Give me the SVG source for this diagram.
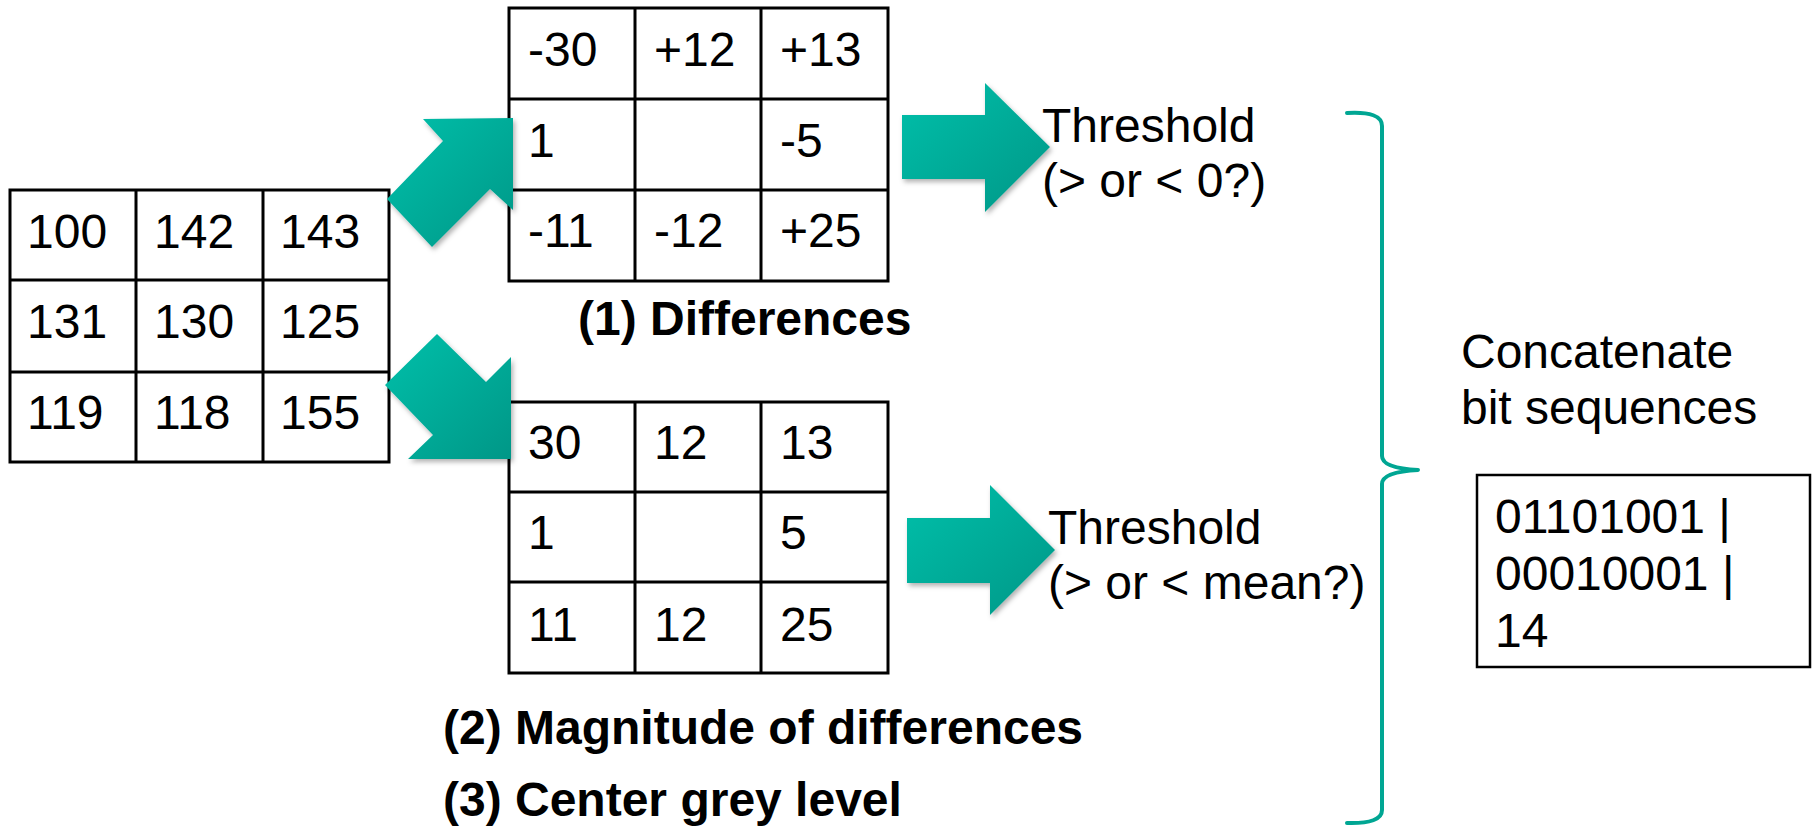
<svg xmlns="http://www.w3.org/2000/svg" width="1814" height="827" viewBox="0 0 1814 827">
<style>
.grid{fill:none;stroke:#000;stroke-width:3}
.t{font-family:"Liberation Sans",Arial,sans-serif;font-size:48px;fill:#000}
.b{font-family:"Liberation Sans",Arial,sans-serif;font-size:48px;font-weight:bold;fill:#000}
.arrow{fill:url(#tg);filter:url(#sh)}
.brace{fill:none;stroke:#00a693;stroke-width:4;stroke-linecap:round;stroke-linejoin:round}
</style>
<defs>
<linearGradient id="tg" x1="0" y1="0" x2="1" y2="1">
<stop offset="0" stop-color="#00c0aa"/>
<stop offset="1" stop-color="#009787"/>
</linearGradient>
<filter id="sh" x="-20%" y="-20%" width="140%" height="140%">
<feDropShadow dx="2" dy="3" stdDeviation="2.5" flood-color="#000" flood-opacity="0.3"/>
</filter>
</defs>

<g id="input-grid">
<rect class="grid" x="10" y="190" width="379" height="272"/>
<path class="grid" d="M136,190V462M263,190V462M10,280H389M10,372H389"/>
<text class="t" x="27" y="248">100</text><text class="t" x="154" y="248">142</text><text class="t" x="280" y="248">143</text>
<text class="t" x="27" y="338">131</text><text class="t" x="154" y="338">130</text><text class="t" x="280" y="338">125</text>
<text class="t" x="27" y="429">119</text><text class="t" x="154" y="429">118</text><text class="t" x="280" y="429">155</text>
</g>

<g id="differences-grid">
<rect class="grid" x="509" y="8" width="379" height="273"/>
<path class="grid" d="M635,8V281M761,8V281M509,99H888M509,190H888"/>
<text class="t" x="528" y="66">-30</text><text class="t" x="654" y="66">+12</text><text class="t" x="780" y="66">+13</text>
<text class="t" x="528" y="157">1</text><text class="t" x="780" y="157">-5</text>
<text class="t" x="528" y="247">-11</text><text class="t" x="654" y="247">-12</text><text class="t" x="780" y="247">+25</text>
</g>
<g id="label-differences"><text class="b" x="578" y="335">(1) Differences</text></g>

<g id="magnitude-grid">
<rect class="grid" x="509" y="402" width="379" height="271"/>
<path class="grid" d="M635,402V673M761,402V673M509,492H888M509,582H888"/>
<text class="t" x="528" y="459">30</text><text class="t" x="654" y="459">12</text><text class="t" x="780" y="459">13</text>
<text class="t" x="528" y="549">1</text><text class="t" x="780" y="549">5</text>
<text class="t" x="528" y="641">11</text><text class="t" x="654" y="641">12</text><text class="t" x="780" y="641">25</text>
</g>
<g id="label-magnitude"><text class="b" x="443" y="744">(2) Magnitude of differences</text></g>
<g id="label-center"><text class="b" x="443" y="816">(3) Center grey level</text></g>

<g id="threshold-1"><text class="t" x="1042" y="142">Threshold</text><text class="t" x="1042" y="197">(&gt; or &lt; 0?)</text></g>
<g id="threshold-2"><text class="t" x="1048" y="544">Threshold</text><text class="t" x="1048" y="599">(&gt; or &lt; mean?)</text></g>

<g id="concatenate"><text class="t" x="1461" y="368">Concatenate</text><text class="t" x="1461" y="424">bit sequences</text></g>

<g id="result-box">
<rect x="1477" y="475" width="333" height="192" fill="none" stroke="#000" stroke-width="2.5"/>
<text class="t" x="1495" y="533">01101001 |</text>
<text class="t" x="1495" y="590">00010001 |</text>
<text class="t" x="1495" y="647">14</text>
</g>

<g id="connectors">
<polygon class="arrow" points="513,118 513,210 490,189 432,247 387,199 443,141 423,119"/>
<polygon class="arrow" points="437,334 486,382 511,357 511,459 408,459 433,435 385,385"/>
<polygon class="arrow" points="902,115 985,115 985,83 1050,147 985,212 985,179 902,179"/>
<polygon class="arrow" points="907,518 990,518 990,485 1055,550 990,615 990,583 907,583"/>
<path class="brace" d="M1347,113 Q1382,111 1382,126 V456 Q1382,468 1418,470 Q1382,472 1382,484 V810 Q1382,824 1347,823"/>
</g>
</svg>
